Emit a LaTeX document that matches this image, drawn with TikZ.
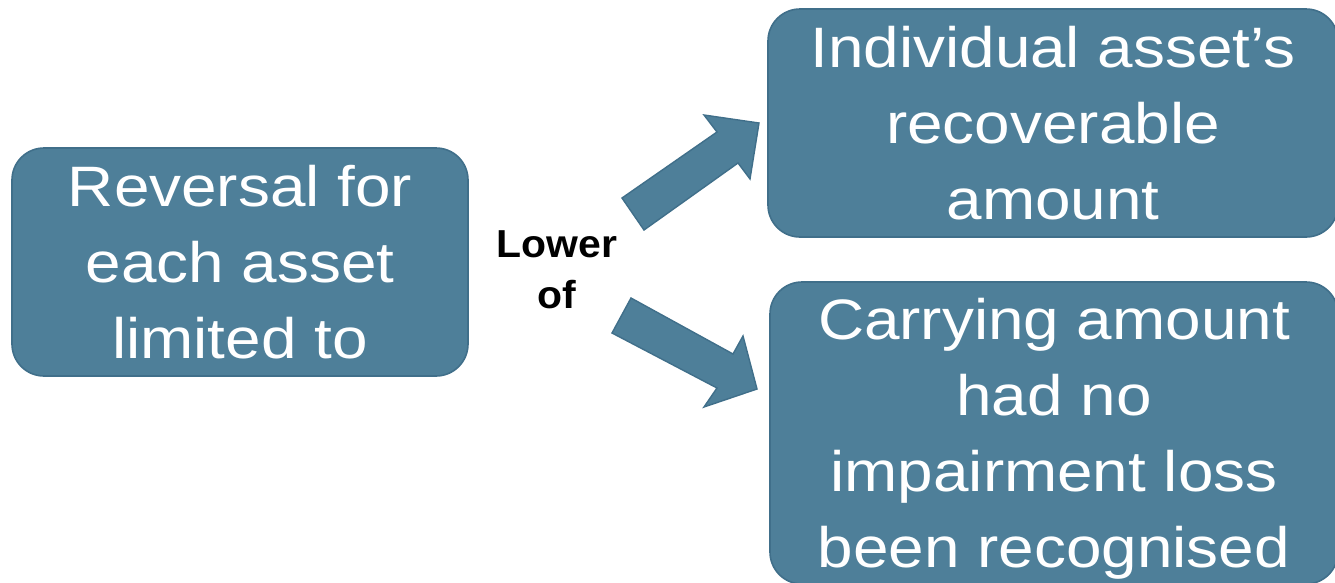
\documentclass[tikz,border=0pt]{standalone}
\usepackage{fontspec}
\setmainfont{Liberation Sans}
\newfontfamily\boxfont[FakeStretch=1.12]{Liberation Sans}
\newfontfamily\joinfont[FakeStretch=1.05]{Liberation Sans}
\definecolor{tealfill}{RGB}{78,127,153}
\definecolor{tealedge}{RGB}{64,111,138}
\tikzset{
  stepbox/.style={draw=tealedge, line width=1.6pt, fill=tealfill,
    rounded corners=32pt, inner sep=0pt, text=white, align=center,
    text depth=0pt, font=\boxfont\fontsize{57}{76}\selectfont},
  blockarrow/.style={draw=tealedge, line width=1.4pt, fill=tealfill, line join=miter},
  jointext/.style={align=center, font=\joinfont\bfseries\fontsize{39}{51}\selectfont}
}
\begin{document}
\begin{tikzpicture}[x=1pt,y=-1pt]
  \useasboundingbox (0,0) rectangle (1335,582);

  % source box
  \node[stepbox, minimum width=456pt, minimum height=228pt] (src) at (240,262)
    {Reversal for\\each asset\\limited to};

  % the two limits
  \node[stepbox, minimum width=570pt, minimum height=228pt] (rec) at (1053,123)
    {Individual asset’s\\recoverable\\amount};
  \node[stepbox, minimum width=568pt, minimum height=302pt] (car) at (1054,433)
    {Carrying amount\\had no\\impairment loss\\been recognised};

  % label between them
  \node[jointext] (low) at (557,270) {Lower\\of};

  % block arrows
  \draw[blockarrow] (622,198) -- (717,132) -- (704,115) -- (759,123)
    -- (750,179) -- (738,163) -- (644,230) -- cycle;
  \draw[blockarrow] (631,298) -- (733,354) -- (743,336) -- (757,389)
    -- (704,407) -- (717,388) -- (612,333) -- cycle;
\end{tikzpicture}
\end{document}
